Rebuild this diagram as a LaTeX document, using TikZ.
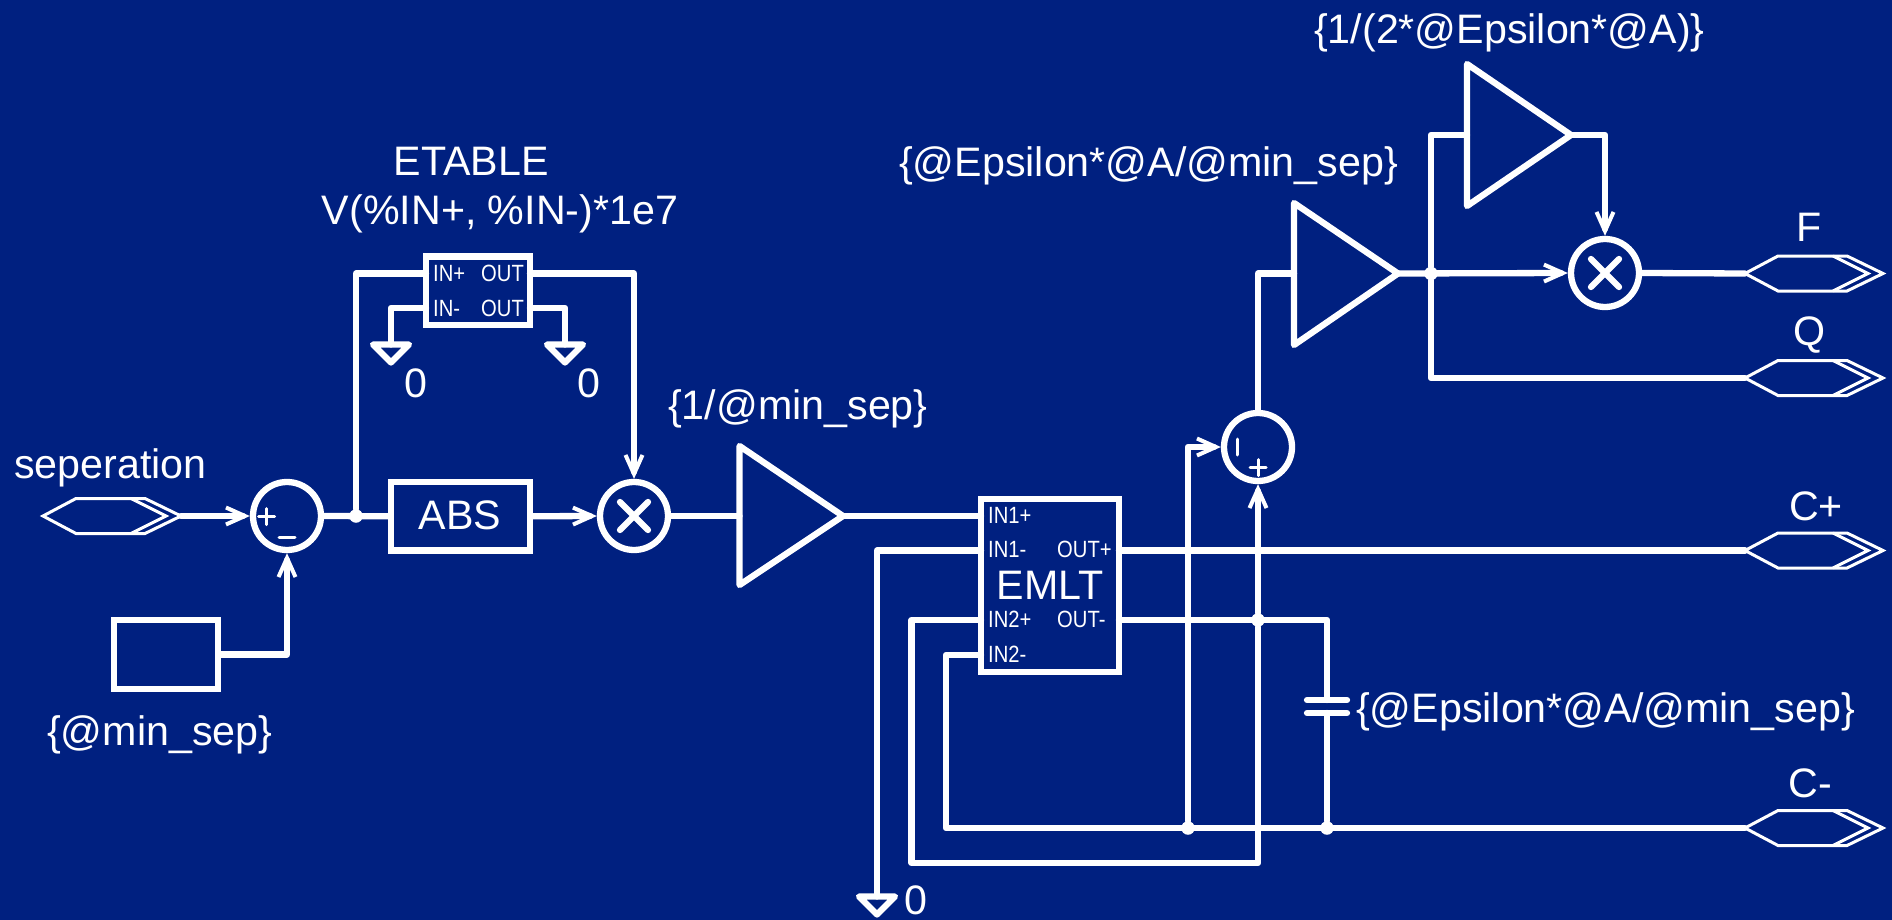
\documentclass[tikz,border=0pt]{standalone}
\usepackage{fontspec}
\setmainfont{Liberation Sans}
\newfontfamily\pinfont[FakeStretch=0.86]{Liberation Sans}
\usetikzlibrary{arrows.meta}
\definecolor{bgblue}{RGB}{0,32,128}
\newcommand{\biglab}{\fontsize{41.2}{48}\selectfont}
\newcommand{\pinlab}{\pinfont\fontsize{23.5}{26}\selectfont}
\newcommand{\hexport}[3]{%
  \draw[portline] (#2,#3) -- ++(33,-17.5) -- ++(69,0) -- ++(36,17.5) -- ++(-36,17.5) -- ++(-69,0) -- cycle;
  \draw[portline] (#2+88,#3-17.5) -- (#2+123,#3) -- (#2+88,#3+17.5);
  \coordinate (#1-l) at (#2,#3);
  \coordinate (#1-r) at (#2+138,#3);}
\newcommand{\ampshape}[6]{%
  \draw[wire] (#2,#3) -- (#5,#6) -- (#2,#4) -- cycle;
  \coordinate (#1-in) at (#2,#6);
  \coordinate (#1-out) at (#5,#6);}
\newcommand{\gndshape}[3]{%
  \draw[wire] (#2-18,#3) -- (#2+18,#3) -- (#2,#3+18) -- cycle;
  \coordinate (#1) at (#2,#3);}
\tikzset{
  wire/.style={draw=white,line width=6.3pt,line join=round,line cap=round},
  portline/.style={draw=white,line width=3pt,line join=miter},
  arr/.style={wire,-{Straight Barb[length=19pt,width=17pt,line width=4pt]}},
  thin sign/.style={draw=white,line width=3pt,line cap=round},
  blockbox/.style={draw=white,line width=6.3pt,inner sep=0pt},
  ring/.style={circle,draw=white,line width=6.3pt,minimum size=68pt,inner sep=0pt},
  dotnode/.style={circle,fill=white,minimum size=13.5pt,inner sep=0pt},
  lab/.style={text=white,font=\biglab,anchor=base,inner sep=0pt},
  labw/.style={lab,anchor=base west},
  pin/.style={text=white,font=\pinlab,anchor=base west,inner sep=0pt},
}
\begin{document}
\begin{tikzpicture}[x=1pt,y=-1pt]
\fill[bgblue] (0,0) rectangle (1892,920);
\useasboundingbox (0,0) rectangle (1892,920);

% blocks
\node[ring] (sum1) at (287,516) {};
\node[ring] (mul1) at (634,516) {};
\node[ring] (sum2) at (1258,447) {};
\node[ring] (mul2) at (1605,273) {};
\node[blockbox,minimum width=104pt,minimum height=68.5pt] (etable) at (478,290.75) {};
\node[blockbox,minimum width=139pt,minimum height=68.5pt] (abs) at (460.5,516.25) {};
\node[blockbox,minimum width=104pt,minimum height=69pt] (const) at (166,654.5) {};
\node[blockbox,minimum width=138pt,minimum height=173pt] (emlt) at (1050,585.5) {};

\hexport{psep}{43}{516}
\hexport{pF}{1745}{273.5}
\hexport{pQ}{1745}{378}
\hexport{pCp}{1745}{550.5}
\hexport{pCm}{1745}{828}

\ampshape{amp1}{739.5}{446}{585}{843}{516}
\ampshape{amp2}{1467}{64}{206}{1571}{135}
\ampshape{amp3}{1294}{203}{345}{1398}{273.5}

\gndshape{g1}{391}{344.5}
\gndshape{g2}{565}{344.5}
\gndshape{g3}{877}{896.5}

% pin and junction points
\coordinate (ein1) at (426,273.5);
\coordinate (ein2) at (426,308);
\coordinate (eout1) at (530,273.5);
\coordinate (eout2) at (530,308);
\coordinate (mi1p) at (981,516);
\coordinate (mi1m) at (981,550.5);
\coordinate (mi2p) at (981,620);
\coordinate (mi2m) at (981,655);
\coordinate (mop) at (1119,550.5);
\coordinate (mom) at (1119,620);
\coordinate (capt) at (1327,700);
\coordinate (capb) at (1327,713);
\coordinate (capin) at (1327,620);
\node[dotnode] (j1) at (356,516) {};
\node[dotnode] (j2) at (1258,620) {};
\node[dotnode] (j3) at (1188,828) {};
\node[dotnode] (j4) at (1327,828) {};
\node[dotnode] (j5) at (1431,273.5) {};

% connectors
\draw[arr] (psep-r) -- (sum1.west);
\draw[arr] (const.east) -| (sum1.south);
\draw[wire] (sum1.east) -- (abs.west);
\draw[arr] (abs.east) -- (mul1.west);
\draw[wire] (j1) |- (ein1);
\draw[wire] (ein2) -| (g1);
\draw[wire] (eout2) -| (g2);
\draw[arr] (eout1) -| (mul1.north);
\draw[wire] (mul1.east) -- (amp1-in);
\draw[wire] (amp1-out) -- (mi1p);
\draw[wire] (mi1m) -| (g3);
\draw[wire] (mop) -- (pCp-l);
\draw[wire] (mom) -- (capin) -- (capt);
\draw[wire] (capb) -- (j4);
\draw[wire] (1307,700) -- (1347,700);
\draw[wire] (1307,713) -- (1347,713);
\draw[wire] (mi2m) -| (946,828) -- (pCm-l);
\draw[wire] (mi2p) -| (911.5,863) -| (j2);
\draw[arr] (j2) -- (sum2.south);
\draw[arr] (j3) |- (sum2.west);
\draw[wire] (sum2.north) |- (amp3-in);
\draw[arr] (amp3-out) -- (mul2.west);
\draw[wire] (j5) |- (amp2-in);
\draw[arr] (amp2-out) -| (mul2.north);
\draw[wire] (mul2.east) -- (pF-l);
\draw[wire] (j5) |- (pQ-l);

% signs inside the rings
\draw[thin sign] (258.7,516.7) -- (274.7,516.7) (266.7,508.7) -- (266.7,524.7);
\draw[thin sign] (279,537) -- (295,537);
\draw[thin sign] (1237,439) -- (1237,455);
\draw[thin sign] (1250,467.7) -- (1266,467.7) (1258,459.7) -- (1258,475.7);
\draw[wire] (620,502) -- (648,530) (648,502) -- (620,530);
\draw[wire] (1591,259) -- (1619,287) (1619,259) -- (1591,287);

% labels
\node[lab] (tetable) at (471,176) {ETABLE};
\node[lab] (tv) at (500,225) {V(\%IN+, \%IN-)*1e7};
\node[lab] (t0a) at (416,397.5) {0};
\node[lab] (t0b) at (589,397.5) {0};
\node[lab] (t0c) at (916,914) {0};
\node[lab] (tabs) at (460,529) {ABS};
\node[labw] (tsep) at (14,478) {seperation};
\node[labw] (tmin) at (47,745) {\{@min\_sep\}};
\node[labw] (tgain) at (668,419) {\{1/@min\_sep\}};
\node[labw] (teps) at (899,176.7) {\{@Epsilon*@A/@min\_sep\}};
\node[labw] (tcap) at (1356,722) {\{@Epsilon*@A/@min\_sep\}};
\node[labw] (tinv) at (1314,44) {\{1/(2*@Epsilon*@A)\}};
\node[lab] (tF) at (1809,241.7) {F};
\node[lab] (tQ) at (1809,345) {Q};
\node[lab] (tCp) at (1816,520) {C+};
\node[lab] (tCm) at (1810,797) {C-};
\node[lab] (temlt) at (1050,599) {EMLT};

\node[pin] (pa) at (433,281.5) {IN+};
\node[pin] (pb) at (433,316.5) {IN-};
\node[pin] (pc) at (481,281.5) {OUT};
\node[pin] (pd) at (481,316.5) {OUT};
\node[pin] (pe) at (988,523.5) {IN1+};
\node[pin] (pf) at (988,557.5) {IN1-};
\node[pin] (pg) at (988,627.5) {IN2+};
\node[pin] (ph) at (988,662.5) {IN2-};
\node[pin] (pi) at (1057,557.5) {OUT+};
\node[pin] (pj) at (1057,627.5) {OUT-};
\end{tikzpicture}
\end{document}
